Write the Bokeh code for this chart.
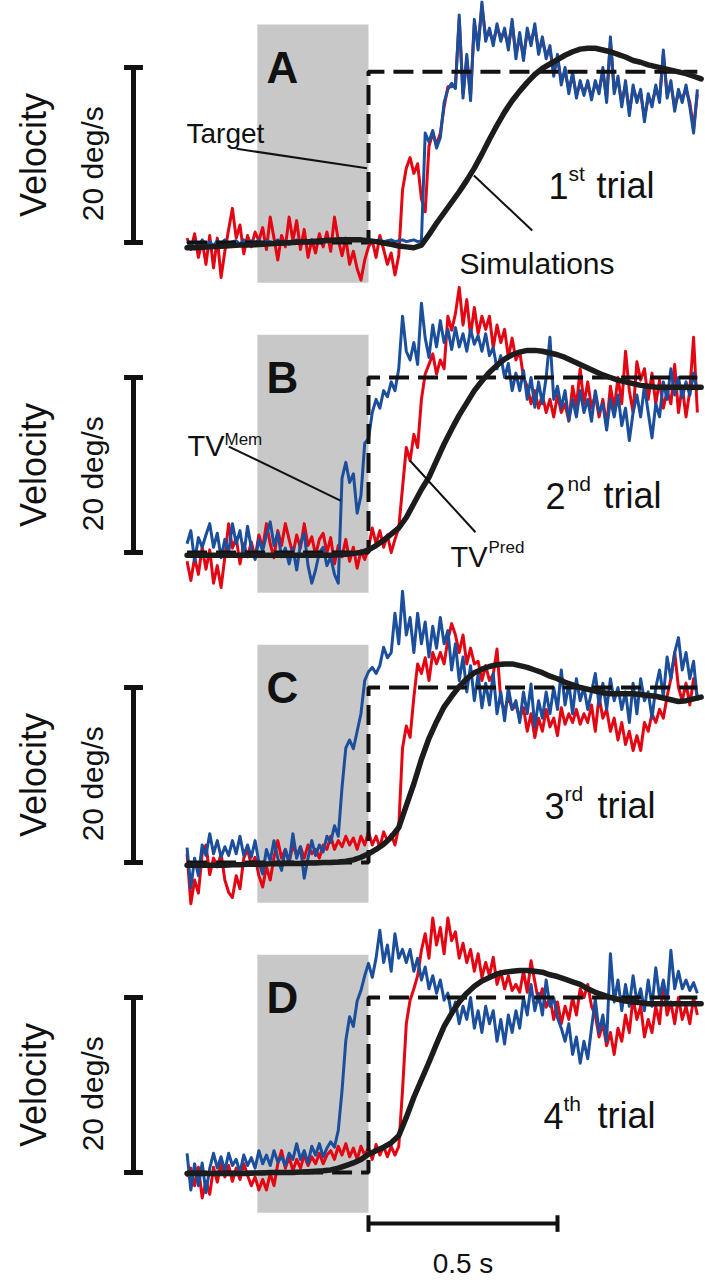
import numpy as np
from bokeh.plotting import figure
from bokeh.models import Range1d
from bokeh.embed import file_html
from bokeh.resources import INLINE
from bokeh.core.properties import value

# ---------------- data ----------------
panel_labels = ["A", "B", "C", "D"]
trial_numbers = ["1", "2", "3", "4"]
trial_suffixes = ["st", "nd", "rd", "th"]
target_levels = [19.5, 20.0, 20.0, 20.0]      # deg/s
scale_bar_deg = 20.0                           # deg/s
time_bar_s = 0.5                               # s
blank_window = [-0.294, 0.0]                   # s (grey period)
blank_v = [-4.6, 24.9]                         # deg/s extent of grey box
target_t = [-0.48, 0.0, 0.0, 0.87]

# eye-velocity traces, sampled every 0.01 s from -0.48 s (deg/s)
trace_t0, trace_dt = -0.48, 0.01
red_A = [0.5, -0.8, 1.0, -1.7, 0.2, -2.5, 0.8, -2.9,
         0.5, -4.0, -1.0, 1.5, 3.9, 0.5, 2.0, -1.3, 0.8, -0.5,
         1.2, 0.2, 1.7, -0.8, 2.9, 0.5, -2.0, 0.8, -0.5, 2.9,
         0.2, 2.5, -0.8, 1.5, -1.7, 0.3, -1.2, 1.0, -0.5, 1.2,
         -1.0, 2.9, 0.3, -1.5, 0.5, -2.5, -1.0, -3.0, -4.3, -2.0,
         -0.5, 0.2, -1.7, 0.8, -0.8, -2.5, -1.2, -3.7, -1.5, 6.0,
         8.5, 9.7, 7.9, 9.0, 5.0, 3.5, 11.0, 12.5, 11.2, 12.5,
         15.5, 17.8, 17.8, 18.0, 25.5, 17.0, 21.0, 16.8, 25.0, 22.5,
         27.0, 23.5, 24.0, 23.0, 24.5, 23.5, 24.0, 22.5, 25.0, 21.5,
         23.5, 21.3, 24.0, 23.0, 24.5, 22.0, 23.0, 21.5, 22.0, 19.5,
         21.0, 18.5, 19.5, 17.5, 19.0, 17.0, 18.0, 17.3, 18.0, 16.8,
         18.0, 17.5, 19.5, 16.5, 23.0, 17.5, 18.5, 16.0, 18.0, 15.0,
         17.5, 16.5, 17.0, 14.3, 16.5, 16.0, 17.5, 16.5, 21.5, 17.0,
         18.0, 15.5, 17.0, 16.5, 17.5, 16.0, 13.0, 17.0]
blue_A = [0.1, -0.3, 0.2, -0.5, 0.3, -0.2, 0.1, -0.4,
          0.2, -0.1, 0.3, -0.3, 0.1, 0.2, -0.2, 0.3, -0.1, 0.2,
          0.0, 0.3, -0.2, 0.2, 0.1, -0.1, 0.3, 0.0, 0.2, -0.2,
          0.1, 0.3, 0.0, 0.2, -0.1, 0.3, 0.1, 0.2, 0.0, 0.3,
          0.2, 0.1, 0.4, 0.2, 0.3, 0.1, 0.3, 0.2, 0.4, 0.2,
          0.3, 0.1, 0.2, 0.3, 0.1, 0.2, 0.3, 0.1, 0.2, 0.3,
          0.1, 0.2, 0.3, 0.1, 0.2, 12.5, 11.5, 12.8, 10.8, 12.0,
          16.0, 17.5, 18.2, 17.6, 26.0, 16.5, 21.5, 16.2, 25.5, 22.0,
          27.5, 23.0, 24.5, 22.5, 25.0, 23.0, 24.5, 22.0, 25.5, 21.0,
          24.0, 20.8, 24.5, 22.5, 25.0, 21.5, 23.5, 21.0, 22.5, 19.0,
          21.5, 18.0, 20.0, 17.0, 19.5, 16.5, 18.5, 16.8, 18.5, 16.3,
          18.5, 17.0, 20.0, 16.0, 23.5, 17.0, 19.0, 15.5, 18.5, 14.5,
          18.0, 16.0, 17.5, 13.8, 17.0, 15.5, 18.0, 16.0, 22.0, 16.5,
          18.5, 15.0, 17.5, 16.0, 18.0, 15.5, 12.5, 17.5]
red_B = [-1.0, -3.2, -0.6, -2.5, 0.6, -1.9, 0.3, -3.5,
         -1.5, -4.0, -0.5, 3.3, 0.5, 1.7, -1.3, 1.0, -0.5, 1.2,
         -0.6, 2.0, 0.5, 3.3, 1.0, -0.6, 2.5, 0.8, 3.3, 1.5,
         -0.2, 2.0, 0.5, 3.3, 0.8, 1.8, -0.3, 1.5, 2.2, 0.0,
         1.7, -1.3, 0.8, -0.5, 1.5, -1.0, 0.6, -1.8, 0.2, -0.8,
         0.5, 2.8, 1.0, 2.5, 0.6, 2.0, 0.0, 1.5, 2.8, 7.4,
         12.0, 10.5, 13.5, 12.0, 17.5, 20.4, 21.5, 22.7, 20.4, 22.0,
         21.0, 27.0, 25.4, 27.3, 30.3, 26.0, 28.9, 24.8, 28.0, 25.0,
         27.0, 25.5, 27.0, 23.4, 26.0, 24.0, 25.5, 22.3, 24.5, 22.0,
         23.0, 20.0, 19.0, 17.0, 18.5, 16.5, 18.0, 16.0, 17.5, 15.5,
         18.0, 16.0, 17.0, 15.0, 19.0, 16.7, 21.0, 17.0, 19.5, 16.5,
         18.0, 15.5, 17.5, 14.5, 19.0, 16.5, 20.0, 17.0, 23.0, 18.5,
         16.0, 21.8, 19.7, 21.0, 17.5, 20.5, 17.0, 19.7, 16.5, 18.5,
         17.0, 21.5, 16.0, 19.0, 15.5, 18.5, 24.6, 16.0]
blue_B = [1.0, 2.5, -1.0, 1.7, 0.6, 2.0, 3.3, 0.6,
          2.2, -0.6, 1.5, 0.0, 3.3, 1.0, 2.5, -0.3, 3.0, 0.5,
          -0.8, 1.5, 0.2, 2.0, 3.5, 0.8, 2.2, -0.5, 0.5, -1.3,
          0.5, -2.0, 1.0, 2.2, -1.5, -3.5, -2.0, 0.0, 0.6, -1.5,
          -0.5, -2.5, -3.5, 8.5, 10.3, 8.0, 9.0, 4.5, 6.5, 12.5,
          13.0, 16.0, 17.5, 16.5, 18.5, 17.8, 19.5, 18.5, 21.0, 27.0,
          23.0, 22.0, 24.0, 21.5, 28.5, 24.5, 22.3, 26.0, 23.5, 26.5,
          24.0, 25.5, 23.2, 25.7, 23.5, 25.0, 23.0, 25.5, 23.8, 24.8,
          23.0, 25.0, 22.5, 23.4, 21.0, 22.5, 20.0, 21.6, 18.5, 20.5,
          18.5, 20.8, 17.5, 20.0, 16.6, 19.5, 17.0, 20.0, 24.6, 17.5,
          19.0, 16.5, 18.5, 15.1, 17.5, 15.5, 18.5, 16.0, 17.5, 15.0,
          18.5, 16.0, 17.0, 14.0, 17.5, 15.5, 18.0, 14.5, 16.5, 12.8,
          16.0, 18.0, 15.5, 19.0, 16.0, 13.1, 17.0, 15.5, 19.5, 17.5,
          21.0, 18.0, 20.0, 17.7, 19.5, 18.0, 20.5, 18.5]
red_C = [1.0, -4.7, -2.0, -3.5, 1.0, 2.0, -1.4, 0.5,
         -0.5, 1.0, -2.0, -3.4, -4.0, -1.5, -3.0, 0.5, 1.5, -0.3,
         0.6, -1.5, -2.8, -0.5, -2.0, 0.6, 2.5, 0.5, 1.5, 0.0,
         2.0, 0.8, 1.8, 0.5, 2.0, 1.0, 1.5, 0.5, 2.0, 1.5,
         3.0, 1.5, 2.5, 1.8, 3.0, 2.0, 2.8, 1.5, 3.0, 2.0,
         3.5, 2.0, 3.0, 1.7, 3.5, 2.5, 3.2, 2.0, 4.0, 13.1,
         15.6, 14.3, 18.9, 22.7, 21.6, 23.4, 20.8, 24.0, 22.7, 24.0,
         22.7, 25.5, 27.3, 26.0, 24.0, 26.0, 22.7, 24.5, 22.7, 23.0,
         20.8, 22.5, 20.8, 21.5, 24.4, 18.5, 17.3, 19.0, 17.5, 18.0,
         16.5, 17.7, 15.0, 17.0, 14.3, 16.5, 15.0, 17.5, 15.5, 16.5,
         14.5, 17.7, 15.8, 17.0, 16.0, 17.5, 15.8, 17.0, 16.0, 18.0,
         15.0, 19.0, 16.5, 17.5, 15.0, 16.5, 14.0, 16.0, 13.5, 15.0,
         12.8, 14.5, 12.8, 16.0, 15.0, 17.0, 16.0, 17.5, 16.5, 19.0,
         21.0, 24.0, 20.0, 18.5, 20.5, 18.0, 21.0, 19.0]
blue_C = [1.7, -2.9, 0.5, -1.5, 2.0, 0.8, 3.3, 1.0,
          2.5, 0.6, 1.8, 0.8, 2.5, 1.0, 3.0, 0.8, 2.0, 0.6,
          2.5, 0.0, -1.3, 1.5, 0.2, 2.5, 0.5, -0.9, 1.5, 0.0,
          3.3, 0.5, 1.8, -1.8, 0.5, 2.5, 0.8, 2.0, 1.2, 3.0,
          2.3, 4.2, 3.0, 8.6, 13.1, 14.0, 13.0, 15.0, 17.0, 20.8,
          21.8, 22.3, 21.6, 22.5, 24.6, 23.4, 24.0, 28.5, 25.0, 31.0,
          26.0, 28.0, 24.0, 28.5, 25.0, 27.5, 23.5, 27.0, 24.5, 28.0,
          25.0, 26.5, 22.0, 25.0, 20.8, 23.5, 19.5, 22.5, 18.5, 21.5,
          17.7, 20.5, 18.0, 21.6, 17.0, 19.5, 16.2, 20.0, 17.5, 18.5,
          16.0, 19.5, 17.0, 20.4, 15.5, 18.5, 16.5, 19.5, 17.0, 20.0,
          17.5, 22.0, 18.0, 20.5, 17.0, 21.0, 18.5, 20.0, 17.5, 19.5,
          21.6, 18.0, 20.5, 17.5, 21.0, 18.5, 20.0, 17.5, 19.5, 16.0,
          20.5, 17.0, 21.0, 18.5, 19.5, 16.5, 20.0, 22.0, 19.0, 23.5,
          21.0, 24.0, 25.7, 22.0, 24.0, 21.0, 23.0, 18.5]
red_D = [-0.5, 0.5, -1.5, 0.6, -2.9, -1.0, -2.5, 0.6,
         -1.1, 1.1, -0.5, 0.8, -1.0, 0.5, -0.8, 1.0, -0.3, -1.5,
         -0.5, -2.0, -0.8, -2.0, -0.1, -1.5, 1.0, 2.5, 0.5, 1.8,
         0.2, 1.5, 0.5, 2.0, 0.8, 1.8, 1.0, 2.2, 1.0, 2.0,
         2.5, 1.5, 3.0, 2.0, 3.3, 1.8, 2.8, 1.5, 3.0, 2.0,
         2.8, 1.5, 3.2, 2.0, 3.0, 1.8, 3.0, 2.0, 3.0, 9.4,
         17.0, 19.7, 21.0, 22.5, 25.4, 27.3, 24.5, 29.1, 26.0, 28.0,
         25.0, 29.1, 26.5, 27.5, 24.5, 26.2, 24.0, 25.5, 23.0, 25.0,
         22.3, 24.0, 22.5, 24.6, 21.5, 23.0, 21.0, 22.5, 20.8, 21.5,
         20.6, 23.0, 20.6, 24.2, 21.8, 19.5, 21.0, 18.9, 20.0, 17.5,
         19.5, 17.0, 19.0, 17.5, 20.0, 18.0, 21.0, 20.0, 21.5, 19.0,
         18.0, 15.5, 17.0, 14.5, 16.0, 13.5, 16.5, 15.0, 18.0, 16.0,
         20.0, 17.5, 19.0, 15.5, 17.5, 16.0, 19.0, 17.0, 21.7, 18.0,
         19.5, 17.0, 20.0, 17.5, 19.0, 17.0, 20.0, 18.0]
blue_D = [2.2, -2.0, 1.0, -1.5, 1.1, -2.3, 0.5, 2.2,
          0.5, 1.8, 0.2, 2.2, 0.8, 1.5, 0.0, 2.0, 0.8, 1.7,
          0.5, 2.5, 1.0, 2.0, 0.8, 2.5, 1.2, 1.8, 0.8, 2.2,
          1.5, 3.3, 1.5, 2.5, 1.1, 3.0, 2.0, 3.3, 1.8, 2.8,
          3.5, 2.9, 4.8, 9.4, 15.1, 17.8, 16.7, 19.6, 20.8, 22.5,
          23.9, 22.3, 24.5, 27.7, 24.0, 26.0, 23.0, 27.3, 24.5, 25.5,
          24.0, 25.5, 23.0, 24.5, 22.0, 23.5, 21.0, 22.5, 20.5, 22.0,
          19.7, 20.5, 18.0, 19.5, 17.0, 19.0, 17.5, 20.0, 16.5, 18.5,
          16.0, 19.0, 17.0, 18.5, 15.0, 17.5, 14.7, 18.0, 16.0, 18.5,
          16.5, 20.0, 18.0, 21.5, 18.5, 20.5, 18.0, 22.0, 19.0, 20.0,
          17.7, 16.5, 15.0, 17.0, 13.5, 15.5, 12.5, 15.0, 13.0, 16.5,
          19.8, 16.0, 18.0, 15.0, 25.0, 19.5, 22.0, 18.5, 21.5, 19.0,
          22.5, 19.5, 21.0, 18.5, 22.0, 19.0, 23.4, 20.0, 22.0, 19.5,
          25.4, 21.0, 23.0, 21.0, 22.0, 20.8, 21.7, 20.5]

# model simulations, sampled every 0.02 s from -0.48 s (deg/s)
sim_t0, sim_dt = -0.48, 0.02
sim_A = [-0.6, -0.6, -0.55, -0.5,
         -0.45, -0.4, -0.35, -0.3, -0.3,
         -0.25, -0.2, -0.15, -0.1, -0.05,
         0.0, 0.05, 0.1, 0.15, 0.2,
         0.25, 0.3, 0.3, 0.3, 0.3,
         0.2, 0.1, -0.05, -0.2, -0.4,
         -0.5, -0.6, -0.3, 0.9, 2.2,
         3.4, 4.6, 5.8, 7.1, 8.5,
         10.1, 11.8, 13.4, 14.9, 16.2,
         17.3, 18.3, 19.2, 19.9, 20.4,
         20.9, 21.4, 21.8, 22.1, 22.2,
         22.2, 22.0, 21.8, 21.5, 21.2,
         20.8, 20.6, 20.3, 20.1, 19.9,
         19.7, 19.5, 19.3, 19.0, 18.7]
sim_B = [-0.3, -0.3, -0.3, -0.3,
         -0.3, -0.3, -0.3, -0.3, -0.3,
         -0.3, -0.3, -0.3, -0.3, -0.3,
         -0.3, -0.3, -0.3, -0.3, -0.3,
         -0.3, -0.25, -0.2, -0.1, 0.0,
         0.3, 0.8, 1.4, 2.1, 2.8,
         4.0, 5.6, 7.2, 8.6, 10.5,
         12.4, 14.1, 15.7, 17.1, 18.5,
         19.6, 20.6, 21.4, 22.1, 22.6,
         22.9, 23.1, 23.1, 23.0, 22.8,
         22.6, 22.3, 21.9, 21.5, 21.1,
         20.7, 20.3, 20.0, 19.7, 19.5,
         19.3, 19.1, 19.0, 18.9, 18.9,
         18.9, 18.9, 18.9, 18.9, 18.9]
sim_C = [-0.3, -0.3, -0.3, -0.3,
         -0.3, -0.3, -0.25, -0.25, -0.2,
         -0.2, -0.2, -0.15, -0.15, -0.1,
         -0.1, -0.1, -0.05, -0.05, 0.0,
         0.0, 0.05, 0.15, 0.3, 0.6,
         1.0, 1.5, 2.1, 2.9, 4.0,
         6.5, 9.0, 11.8, 14.2, 16.1,
         17.8, 19.0, 20.1, 21.0, 21.7,
         22.1, 22.4, 22.6, 22.7, 22.7,
         22.5, 22.3, 22.0, 21.7, 21.3,
         21.0, 20.6, 20.3, 20.0, 19.8,
         19.6, 19.4, 19.3, 19.3, 19.3,
         19.3, 19.2, 19.1, 19.0, 18.8,
         18.6, 18.4, 18.5, 18.7, 18.9]
sim_D = [-0.1, -0.1, -0.1, -0.1,
         -0.1, -0.1, -0.1, -0.1, -0.1,
         -0.05, -0.05, 0.0, 0.0, 0.0,
         0.0, 0.05, 0.1, 0.15, 0.2,
         0.3, 0.5, 0.8, 1.1, 1.5,
         2.1, 2.5, 2.9, 3.4, 4.2,
         6.3, 8.6, 10.6, 12.6, 14.7,
         16.7, 18.2, 19.5, 20.5, 21.3,
         21.9, 22.3, 22.7, 22.9, 23.0,
         23.1, 23.1, 23.0, 22.9, 22.6,
         22.4, 22.1, 21.8, 21.5, 21.0,
         20.6, 20.3, 20.0, 19.8, 19.6,
         19.5, 19.4, 19.3, 19.3, 19.3,
         19.3, 19.3, 19.3, 19.3, 19.3]

reds = [red_A, red_B, red_C, red_D]
blues = [blue_A, blue_B, blue_C, blue_D]
sims = [sim_A, sim_B, sim_C, sim_D]

# ---------------- layout / style ----------------
PANEL_STEP = 35.43          # vertical spacing of panels, in deg/s units
RED = "#e30613"
BLUE = "#1b4f9c"
GREY = "#c8c8c8"
INK = "#111111"
SIM_INK = "#1c1c1c"
FONT = value("Liberation Sans")


def times(vals, t0, dt):
    return [round(t0 + dt * i, 4) for i in range(len(vals))]


p = figure(width=705, height=1280,
           x_range=Range1d(-0.97354, 0.89153),
           y_range=Range1d(-118.629, 27.657),
           x_axis_type=None, y_axis_type=None,
           toolbar_location=None, output_backend="svg",
           min_border=0, outline_line_color=None, title=None)
p.grid.visible = False
p.background_fill_color = "white"
p.border_fill_color = "white"

offs = [-k * PANEL_STEP for k in range(4)]

# grey blanking periods
for off in offs:
    p.quad(left=[blank_window[0]], right=[blank_window[1]],
           bottom=[blank_v[0] + off], top=[blank_v[1] + off],
           fill_color=GREY, line_color=None)

# eye traces
for k, off in enumerate(offs):
    r = reds[k]
    b = blues[k]
    p.line(times(r, trace_t0, trace_dt), [v + off for v in r],
           line_color=RED, line_width=3, line_join="round")
    p.line(times(b, trace_t0, trace_dt), [v + off for v in b],
           line_color=BLUE, line_width=3, line_join="round")

# target velocity (dashed)
for k, off in enumerate(offs):
    L = target_levels[k]
    p.line(target_t, [0 + off, 0 + off, L + off, L + off],
           line_color=INK, line_width=4, line_dash="20 9")

# simulations
for k, off in enumerate(offs):
    s = sims[k]
    p.line(times(s, sim_t0, sim_dt), [v + off for v in s],
           line_color=SIM_INK, line_width=5.5, line_join="round", line_cap="round")

# vertical scale bars (20 deg/s)
XB = -0.6217
CAP = 0.025
for off in offs:
    p.segment(x0=[XB, XB - CAP, XB - CAP], y0=[off, off, scale_bar_deg + off],
              x1=[XB, XB + CAP, XB + CAP], y1=[scale_bar_deg + off, off, scale_bar_deg + off],
              line_color=INK, line_width=5)

# horizontal time scale bar (0.5 s) under panel D
yb = -5.83 + offs[3]
cv = 0.95
p.segment(x0=[0.0, 0.0, time_bar_s], y0=[yb, yb - cv, yb - cv],
          x1=[time_bar_s, 0.0, time_bar_s], y1=[yb, yb + cv, yb + cv],
          line_color=INK, line_width=4)
p.text(x=[time_bar_s / 2], y=[-10.35 + offs[3]], text=["0.5 s"],
       text_font=FONT, text_font_size=value("28px"), text_align="center",
       text_baseline="alphabetic", text_color=INK)

# pointer lines
p.segment(x0=[-0.349, 0.2788], y0=[10.71, 7.66], x1=[-0.004, 0.4331], y1=[8.49, 1.37],
          line_color=INK, line_width=2)
p.segment(x0=[-0.3696, 0.1093], y0=[12.11 + offs[1], 10.51 + offs[1]],
          x1=[-0.0741, 0.2831], y1=[5.94 + offs[1], 2.32 + offs[1]],
          line_color=INK, line_width=2)

# rotated axis labels
p.text(x=[-0.8862] * 4, y=[10.0 + o for o in offs], text=["Velocity"] * 4,
       angle=np.pi / 2, text_font=FONT, text_font_size=value("36px"),
       text_align="center", text_baseline="alphabetic", text_color=INK)
p.text(x=[-0.7302] * 4, y=[9.0 + o for o in offs], text=["20 deg/s"] * 4,
       angle=np.pi / 2, text_font=FONT, text_font_size=value("30px"),
       text_align="center", text_baseline="alphabetic", text_color=INK)

# panel letters
p.text(x=[-0.2275] * 4, y=[20.0 + o for o in offs], text=panel_labels,
       text_font=FONT, text_font_size=value("44px"), text_font_style="bold",
       text_align="center", text_baseline="alphabetic", text_color=INK)

# trial labels
num_x = [0.4762, 0.4683, 0.4656, 0.4630]
sup_x = [0.5291, 0.5265, 0.5185, 0.5159]
word_x = [0.6032, 0.6217, 0.6058, 0.6058]
p.text(x=num_x, y=[6.5 + o for o in offs], text=trial_numbers,
       text_font=FONT, text_font_size=value("36px"), text_align="left",
       text_baseline="alphabetic", text_color=INK)
p.text(x=sup_x, y=[7.9 + o for o in offs], text=trial_suffixes,
       text_font=FONT, text_font_size=value("21px"), text_align="left",
       text_baseline="alphabetic", text_color=INK)
p.text(x=word_x, y=[6.5 + o for o in offs], text=["trial"] * 4,
       text_font=FONT, text_font_size=value("36px"), text_align="left",
       text_baseline="alphabetic", text_color=INK)

# annotations
p.text(x=[-0.4815], y=[12.46], text=["Target"], text_font=FONT,
       text_font_size=value("28px"), text_align="left", text_baseline="alphabetic",
       text_color=INK)
p.text(x=[0.2407], y=[-2.4], text=["Simulations"], text_font=FONT,
       text_font_size=value("30px"), text_align="left", text_baseline="alphabetic",
       text_color=INK)
p.text(x=[-0.4788, 0.2169], y=[12.2 + offs[1], -0.55 + offs[1]], text=["TV", "TV"],
       text_font=FONT, text_font_size=value("29px"), text_align="left",
       text_baseline="alphabetic", text_color=INK)
p.text(x=[-0.3810, 0.3175], y=[12.9 + offs[1], 0.6 + offs[1]], text=["Mem", "Pred"],
       text_font=FONT, text_font_size=value("17px"), text_align="left",
       text_baseline="alphabetic", text_color=INK)

open("out.html", "w").write(file_html(p, INLINE))
